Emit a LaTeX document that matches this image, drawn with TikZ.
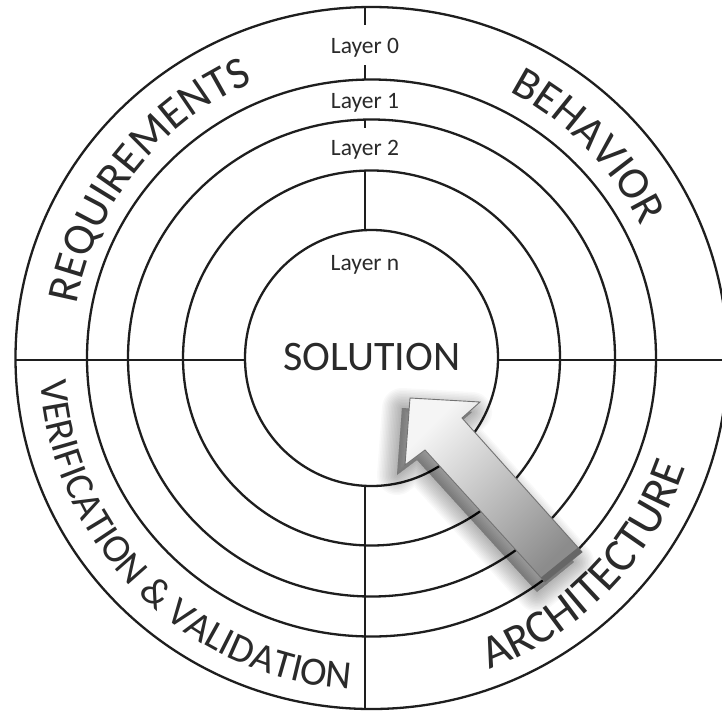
\documentclass[tikz,border=0pt]{standalone}
\usepackage{fontspec}
\setmainfont{Carlito}
\usetikzlibrary{decorations.text}
\definecolor{ink}{HTML}{1E1E1E}
\definecolor{txt}{HTML}{2A2A2A}
\begin{document}
\begin{tikzpicture}[x=1pt,y=1pt,
  ring/.style={draw=ink, line width=2.3pt},
  divider/.style={draw=ink, line width=2pt},
  layerlabel/.style={anchor=base, inner sep=0pt, text=txt, font=\fontsize{23.5}{28}\selectfont},
  sollabel/.style={anchor=base, inner sep=0pt, text=txt, font=\fontsize{42}{50}\selectfont},
  arrowshape/.style={insert path={(410,-398) -- (480,-402) -- (462,-418) -- (582,-552) -- (545,-582) -- (425,-450) -- (405,-465) -- cycle}}
]
\useasboundingbox (0,-710) rectangle (722,0);
\clip (0,-710) rectangle (722,0);
\fill[white] (0,-710) rectangle (722,0);
\coordinate (C) at (371.5,-358);
% rings
\draw[ring] (C) ellipse[x radius=356, y radius=351];
\draw[ring] (C) ellipse[x radius=284.5, y radius=278.5];
\draw[ring] (C) ellipse[x radius=243.5, y radius=238.5];
\draw[ring] (C) ellipse[x radius=188.5, y radius=187.5];
\draw[ring] (C) ellipse[x radius=126.5, y radius=128];
% dividers
\draw[divider] (365,-7) -- (365,-25);
\draw[divider] (365,-65) -- (365,-80);
\draw[divider] (365,-120) -- (365,-128);
\draw[divider] (365,-170) -- (365,-230);
\draw[divider] (365,-486) -- (365,-709);
\draw[divider] (15,-360) -- (245,-360);
\draw[divider] (498,-360) -- (722,-360);
% layer labels
\node[layerlabel] (l0) at (365,-53) {Layer 0};
\node[layerlabel] (l1) at (365,-108) {Layer 1};
\node[layerlabel] (l2) at (365,-155) {Layer 2};
\node[layerlabel] (ln) at (365,-270) {Layer n};
\node[sollabel] (sol) at (372,-370) {SOLUTION};
% curved labels
\path[decorate, decoration={text along path, text align=center,
  text={|\fontsize{45}{54}\selectfont\color{txt}|REQUIREMENTS}}]
  ([shift={(178:300)}]C) arc[start angle=178, end angle=105, radius=300];
\path[decorate, decoration={text along path, text align=center,
  text={|\fontsize{45}{54}\selectfont\color{txt}|BEHAVIOR}}]
  ([shift={(80:300)}]C) arc[start angle=80, end angle=8.6, radius=300];
\path[decorate, decoration={text along path, text align=center,
  text={|\fontsize{40}{48}\selectfont\color{txt}|VERIFICATION {\&} VALIDATION}}]
  ([shift={(-190:332)}]C) arc[start angle=-190, end angle=-79.5, radius=332];
\path[decorate, decoration={text along path, text align=center,
  text={|\fontsize{47}{56}\selectfont\color{txt}|ARCHITECTURE}}]
  ([shift={(-80:333)}]C) arc[start angle=-80, end angle=-8.5, radius=333];
% arrow soft shadow
\foreach \w in {1,4,...,40} {
  \path[fill=black, draw=black, line width=\w pt, line join=round, opacity=0.022, shift={(-8,-10)}, arrowshape];
}
% arrow
\path[arrowshape, top color=black!4, bottom color=black!45, shading angle=45, draw=black!55, line width=0.9pt];
\fill[black!60] (582,-552) -- (545,-582) -- (541,-577.5) -- (578,-547.5) -- cycle;
\end{tikzpicture}
\end{document}
